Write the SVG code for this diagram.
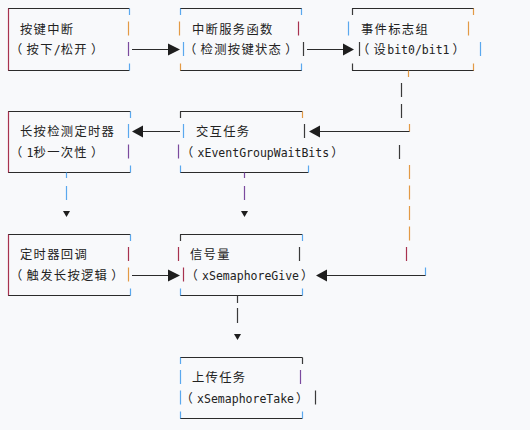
<svg xmlns="http://www.w3.org/2000/svg" width="530" height="430" viewBox="0 0 530 430">
<style>
.h{stroke:#2b2b2b;stroke-width:1;fill:none}
.r,.o,.p,.b,.d{stroke-width:1.2;fill:none}
.r{stroke:#a8324f}.o{stroke:#e39a45}.p{stroke:#7b4a9e}.b{stroke:#5aa8ee}.d{stroke:#3a3a3a}
.c{font-family:"Noto Sans CJK SC",sans-serif;font-size:12.3px;letter-spacing:1.3px;fill:#222}
.m{font-family:"DejaVu Sans Mono","Liberation Mono",monospace;font-size:11.5px;fill:#222}
.ah{fill:#1e1e1e}
</style>
<rect width="530" height="430" fill="#f8f9fb"/>

<g id="n1">
<path class="h" d="M8 8.5H129.5M8 70.5H129.5"/>
<path class="r" d="M8.5 8.5V70.5"/>
<path class="b" d="M129.5 8.5V15M129.5 63.5V70.5"/>
<path class="o" d="M128.5 21.5V35.5"/>
<path class="p" d="M128.5 42V56"/>
<text class="c" x="20" y="33.5">按键中断</text>
<text y="54"><tspan class="c" x="10">（</tspan><tspan class="c" x="26.6">按下</tspan><tspan class="m">/</tspan><tspan class="c">松开</tspan><tspan class="c" dx="3">）</tspan></text>
</g>

<g id="n2">
<path class="h" d="M180 8.5H302M180 70.5H302"/>
<path class="b" d="M180.5 8.5V15M183.5 42V56M301.5 8.5V15M301.5 63.5V70.5"/>
<path class="o" d="M179.5 21.5V35.5M180.5 63.5V70.5"/>
<path class="r" d="M298.5 21.5V35.5"/>
<path class="d" d="M303.5 42V56"/>
<text class="c" x="192" y="33.5">中断服务函数</text>
<text y="54"><tspan class="c" x="184">（</tspan><tspan class="c" x="200.6">检测按键状态</tspan><tspan class="c" dx="3">）</tspan></text>
</g>

<g id="n3">
<path class="h" d="M352 8.5H474M352 70.5H474"/>
<path class="d" d="M352.5 8.5V15M359.5 42V56M352.5 63.5V70.5"/>
<path class="b" d="M348.5 21.5V35.5M480.5 42V56"/>
<path class="o" d="M473.5 8.5V15M468.5 21.5V35.5M473.5 63.5V70.5"/>
<text class="c" x="361" y="33.5">事件标志组</text>
<text y="54"><tspan class="c" x="357">（</tspan><tspan class="c" x="373.6">设</tspan><tspan class="m">bit0/bit1</tspan><tspan class="c" dx="3">）</tspan></text>
</g>

<g id="n4">
<path class="h" d="M8 111.5H130.5M8 172.5H130.5"/>
<path class="r" d="M8.5 111.5V172.5"/>
<path class="b" d="M130.5 111.5V118M128.5 124V138M130.5 165.5V172.5"/>
<path class="p" d="M128.5 144.5V158.5"/>
<text class="c" x="20" y="136">长按检测定时器</text>
<text y="156.5"><tspan class="c" x="10">（</tspan><tspan class="m" x="26.6">1</tspan><tspan class="c">秒一次性</tspan><tspan class="c" dx="3">）</tspan></text>
</g>

<g id="n5">
<path class="h" d="M180 111.5H302.5M180 172.5H308.5"/>
<path class="d" d="M180.5 111.5V118M304.5 124V138"/>
<path class="b" d="M183.5 124V138M180.5 165.5V172.5M308.5 165.5V172.5"/>
<path class="p" d="M178.5 144.5V158.5"/>
<path class="o" d="M302.5 111.5V118"/>
<text class="c" x="196" y="136">交互任务</text>
<text y="156.5"><tspan class="c" x="181">（</tspan><tspan class="m" x="197.6">xEventGroupWaitBits</tspan><tspan class="c" dx="2">）</tspan></text>
</g>

<g id="n6">
<path class="h" d="M8 234.5H130.5M8 295.5H130.5"/>
<path class="r" d="M8.5 234.5V295.5M128.5 247V261"/>
<path class="b" d="M130.5 234.5V241M130.5 288.5V295.5"/>
<path class="o" d="M128.5 267.5V281.5"/>
<text class="c" x="20" y="259">定时器回调</text>
<text y="279.5"><tspan class="c" x="10">（</tspan><tspan class="c" x="26.6">触发长按逻辑</tspan><tspan class="c" dx="3">）</tspan></text>
</g>

<g id="n7">
<path class="h" d="M180 234.5H302.5M180 295.5H302.5"/>
<path class="d" d="M180.5 234.5V241M299.5 247V261"/>
<path class="r" d="M178.5 247V261M183.5 267.5V281.5"/>
<path class="b" d="M180.5 288.5V295.5M302.5 234.5V241M302.5 288.5V295.5"/>
<text class="c" x="190" y="259">信号量</text>
<text y="279.5"><tspan class="c" x="185.5">（</tspan><tspan class="m" x="202.1">xSemaphoreGive</tspan><tspan class="c" dx="2">）</tspan></text>
</g>

<g id="n8">
<path class="h" d="M180 357.5H302.5M180 418.5H302.5"/>
<path class="b" d="M180.5 357.5V364M180.5 370V384M180.5 390.5V404.5M180.5 411.5V418.5M302.5 411.5V418.5"/>
<path class="d" d="M302.5 357.5V364M315.5 390.5V404.5"/>
<path class="p" d="M300.5 370V384"/>
<text class="c" x="192" y="382">上传任务</text>
<text y="402.5"><tspan class="c" x="180.5">（</tspan><tspan class="m" x="197.1">xSemaphoreTake</tspan><tspan class="c" dx="2">）</tspan></text>
</g>

<g id="connectors">
<path class="h" d="M132 49.5H168"/>
<path class="ah" d="M168 43.5L180 49.5L168 55.5Z"/>
<path class="h" d="M307 49.5H343"/>
<path class="ah" d="M343 43.5L354 49.5L343 55.5Z"/>

<path class="o" d="M408.5 70.5V77M409.5 124V131.5"/>
<path class="d" d="M401.5 83V97M401.5 104V118"/>
<path class="h" d="M320 131.5H409.5"/>
<path class="ah" d="M320 125.5L309 131.5L320 137.5Z"/>

<path class="h" d="M143 131.5H180"/>
<path class="ah" d="M143 125.5L132 131.5L143 137.5Z"/>

<path class="b" d="M66.5 172.5V178M66.5 186V200"/>
<path class="ah" d="M63 211L70 211L66.5 217Z"/>
<path class="p" d="M244.5 172.5V178M244.5 186V200"/>
<path class="ah" d="M241 211L248 211L244.5 217Z"/>

<path class="d" d="M399.5 145V159"/>
<path class="o" d="M409.5 165V179M409.5 185.5V199.5M409.5 206V220M409.5 226.5V240.5"/>
<path class="r" d="M406.5 247V261"/>
<path class="b" d="M425.5 267.5V275.5"/>
<path class="h" d="M327 275.5H425.5"/>
<path class="ah" d="M327 269.5L316 275.5L327 281.5Z"/>

<path class="h" d="M132 275.5H168"/>
<path class="ah" d="M168 269.5L180 275.5L168 281.5Z"/>

<path class="d" d="M237.5 295.5V303M237.5 308V323"/>
<path class="ah" d="M234 334L241 334L237.5 340Z"/>
</g>
</svg>
